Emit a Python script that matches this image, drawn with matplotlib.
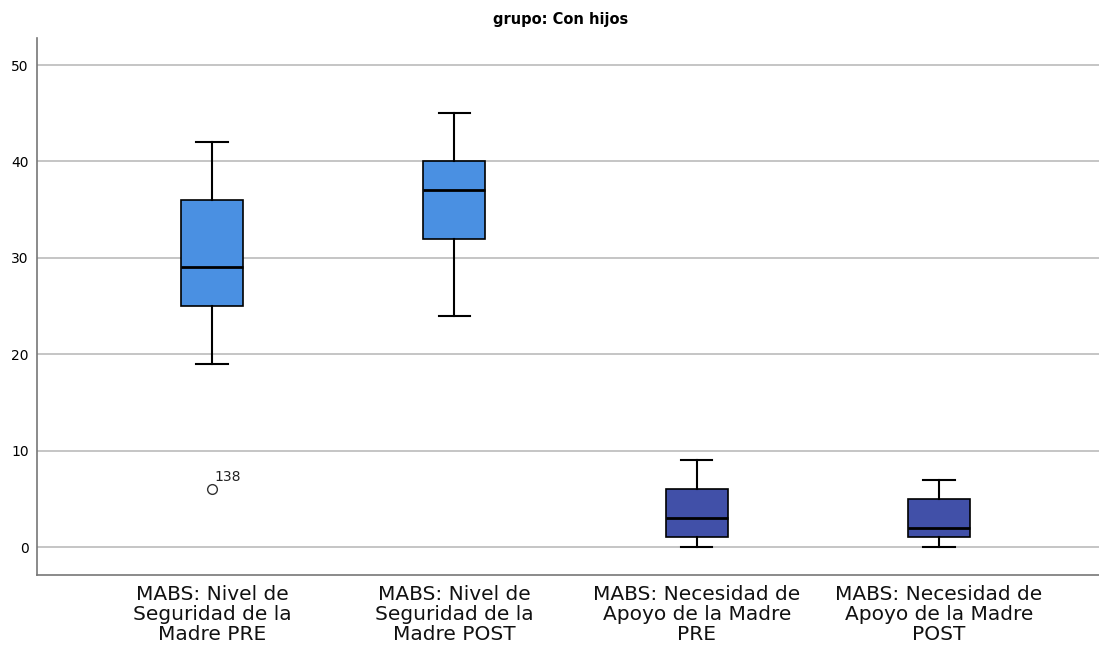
import matplotlib
matplotlib.use("Agg")
import matplotlib.pyplot as plt

# Datos
etiquetas = ["MABS: Nivel de\nSeguridad de la\nMadre PRE",
             "MABS: Nivel de\nSeguridad de la\nMadre POST",
             "MABS: Necesidad de\nApoyo de la Madre\nPRE",
             "MABS: Necesidad de\nApoyo de la Madre\nPOST"]
bigote_inf = [19, 24, 0, 0]
q1 = [25, 32, 1, 1]
mediana = [29, 37, 3, 2]
q3 = [36, 40, 6, 5]
bigote_sup = [42, 45, 9, 7]
atipicos = [[6], [], [], []]
id_atipicos = [["138"], [], [], []]
colores = ["#4a90e2", "#4a90e2", "#4150a8", "#4150a8"]

stats = []
for i in range(len(etiquetas)):
    stats.append({"whislo": bigote_inf[i], "q1": q1[i], "med": mediana[i],
                  "q3": q3[i], "whishi": bigote_sup[i], "fliers": atipicos[i]})

fig = plt.figure(figsize=(10.99, 6.45), dpi=100)
ax = fig.add_axes([0.0337, 0.1085, 0.9663, 0.8325])

pos = [1, 2, 3, 4]
bp = ax.bxp(stats, positions=pos, widths=0.256, patch_artist=True,
            boxprops=dict(edgecolor="black", linewidth=1.2),
            medianprops=dict(color="black", linewidth=2),
            whiskerprops=dict(color="black", linewidth=1.5),
            capprops=dict(color="black", linewidth=1.5),
            flierprops=dict(marker="o", markerfacecolor="white",
                            markeredgecolor="#333333", markersize=7),
            capwidths=0.13, zorder=3)
for caja, c in zip(bp["boxes"], colores):
    caja.set_facecolor(c)

for p, vals, ids in zip(pos, atipicos, id_atipicos):
    for v, t in zip(vals, ids):
        ax.annotate(t, (p, v), xytext=(2, 6), textcoords="offset points",
                    fontsize=10, color="#222222")

ax.set_xlim(0.278, 4.66)
ax.set_ylim(-2.9, 52.8)
ax.set_yticks([0, 10, 20, 30, 40, 50])
ax.yaxis.grid(True, color="#bbbbbb", linewidth=1.2, zorder=0)
ax.set_axisbelow(True)
ax.set_xticks(pos)
ax.set_xticklabels(etiquetas, fontsize=14.5, linespacing=1.08, color="#111111")
ax.tick_params(axis="y", length=0, labelsize=10, pad=6)
ax.tick_params(axis="x", length=0, pad=7)
for s in ["top", "right"]:
    ax.spines[s].set_visible(False)
ax.spines["left"].set_color("#777777")
ax.spines["bottom"].set_color("#777777")
ax.spines["left"].set_linewidth(1.2)
ax.spines["bottom"].set_linewidth(1.2)

fig.text(0.51, 0.963, "grupo: Con hijos", ha="center", fontsize=10.5,
         fontweight="bold")

fig.savefig("out.png", dpi=100)
